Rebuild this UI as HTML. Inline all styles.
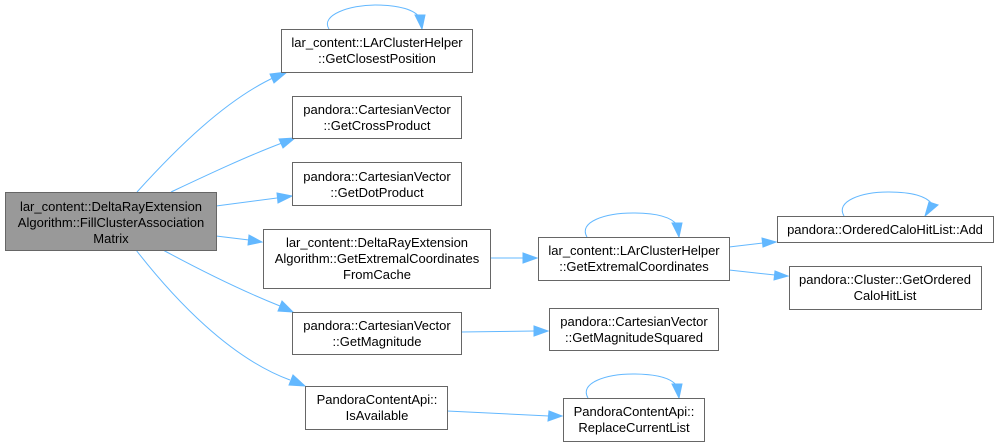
<!DOCTYPE html>
<html><head><meta charset="utf-8"><style>
html,body{margin:0;padding:0;background:#fff;}
svg{display:block;}
text{font-family:"Liberation Sans",Arial,sans-serif;font-size:13px;fill:#000;text-anchor:middle;}
.n{fill:#fff;stroke:#666;stroke-width:1;}
.e{fill:none;stroke:#63b8ff;stroke-width:1;}
.a{fill:#63b8ff;stroke:#63b8ff;}
</style></head><body>
<svg width="998" height="447" viewBox="0 0 998 447">
<path class="e" d="M137,192 C175,150 225,100 275,77"/><polygon class="a" points="287,72 274,83 270,74"/>
<path class="e" d="M171,192 C205,176 245,157 282,143"/><polygon class="a" points="295,138 283,148 279,139"/>
<path class="e" d="M216,206 L277,198"/><polygon class="a" points="292,196 278,203 277,193"/>
<path class="e" d="M216,236 L249,240"/><polygon class="a" points="262,242 248,245 249,235"/>
<path class="e" d="M163,250 C200,270 240,290 280,306"/><polygon class="a" points="293,312 278,311 282,301"/>
<path class="e" d="M136,250 C175,300 230,358 290,380"/><polygon class="a" points="305,386 289,385 293,375"/>
<path class="e" d="M490,258 L524,258"/><polygon class="a" points="537,258 523,263 523,253"/>
<path class="e" d="M461,332 L535,331"/><polygon class="a" points="548,331 534,336 534,326"/>
<path class="e" d="M447,411 L549,416"/><polygon class="a" points="562,416 548,421 549,411"/>
<path class="e" d="M729,247 L763,243"/><polygon class="a" points="776,242 763,247 762,238"/>
<path class="e" d="M729,270 L775,275"/><polygon class="a" points="788,276 774,280 775,271"/>
<path class="e" d="M329,29 C320,15 350,5 375,5 C400,5 415,10 420,18"/><polygon class="a" points="422,29 415,15 425,15"/>
<path class="e" d="M587,237 C578,222 605,213 633,213 C660,213 672,218 677,225"/><polygon class="a" points="679,237 672,223 682,223"/>
<path class="e" d="M844,216 C835,201 862,192 888,192 C915,192 927,197 932,204"/><polygon class="a" points="925,216 929,202 938,205"/>
<path class="e" d="M588,398 C579,383 606,374 633,374 C660,374 672,379 677,386"/><polygon class="a" points="679,398 672,384 682,384"/>
<rect x="5.5" y="192.5" width="211" height="58" fill="#999" stroke="#666"/>
<text x="111" y="211">lar_content::DeltaRayExtension</text>
<text x="111" y="227">Algorithm::FillClusterAssociation</text>
<text x="111" y="243">Matrix</text>
<rect class="n" x="281.5" y="29.5" width="191" height="43"/>
<text x="377" y="47">lar_content::LArClusterHelper</text>
<text x="377" y="63">::GetClosestPosition</text>
<rect class="n" x="292.5" y="96.5" width="169" height="42"/>
<text x="377" y="114">pandora::CartesianVector</text>
<text x="377" y="130">::GetCrossProduct</text>
<rect class="n" x="292.5" y="162.5" width="169" height="43"/>
<text x="377" y="181">pandora::CartesianVector</text>
<text x="377" y="197">::GetDotProduct</text>
<rect class="n" x="263.5" y="229.5" width="227" height="59"/>
<text x="377" y="247">lar_content::DeltaRayExtension</text>
<text x="377" y="263">Algorithm::GetExtremalCoordinates</text>
<text x="377" y="279">FromCache</text>
<rect class="n" x="292.5" y="312.5" width="169" height="42"/>
<text x="377" y="330">pandora::CartesianVector</text>
<text x="377" y="346">::GetMagnitude</text>
<rect class="n" x="305.5" y="386.5" width="142" height="43"/>
<text x="377" y="404">PandoraContentApi::</text>
<text x="377" y="420">IsAvailable</text>
<rect class="n" x="538.5" y="237.5" width="191" height="43"/>
<text x="634" y="255">lar_content::LArClusterHelper</text>
<text x="634" y="271">::GetExtremalCoordinates</text>
<rect class="n" x="549.5" y="308.5" width="169" height="42"/>
<text x="634" y="326">pandora::CartesianVector</text>
<text x="634" y="342">::GetMagnitudeSquared</text>
<rect class="n" x="563.5" y="398.5" width="141" height="43"/>
<text x="634" y="416">PandoraContentApi::</text>
<text x="634" y="432">ReplaceCurrentList</text>
<rect class="n" x="777.5" y="216.5" width="216" height="26"/>
<text x="885" y="234">pandora::OrderedCaloHitList::Add</text>
<rect class="n" x="789.5" y="266.5" width="192" height="43"/>
<text x="885" y="284">pandora::Cluster::GetOrdered</text>
<text x="885" y="300">CaloHitList</text>
</svg>
</body></html>
